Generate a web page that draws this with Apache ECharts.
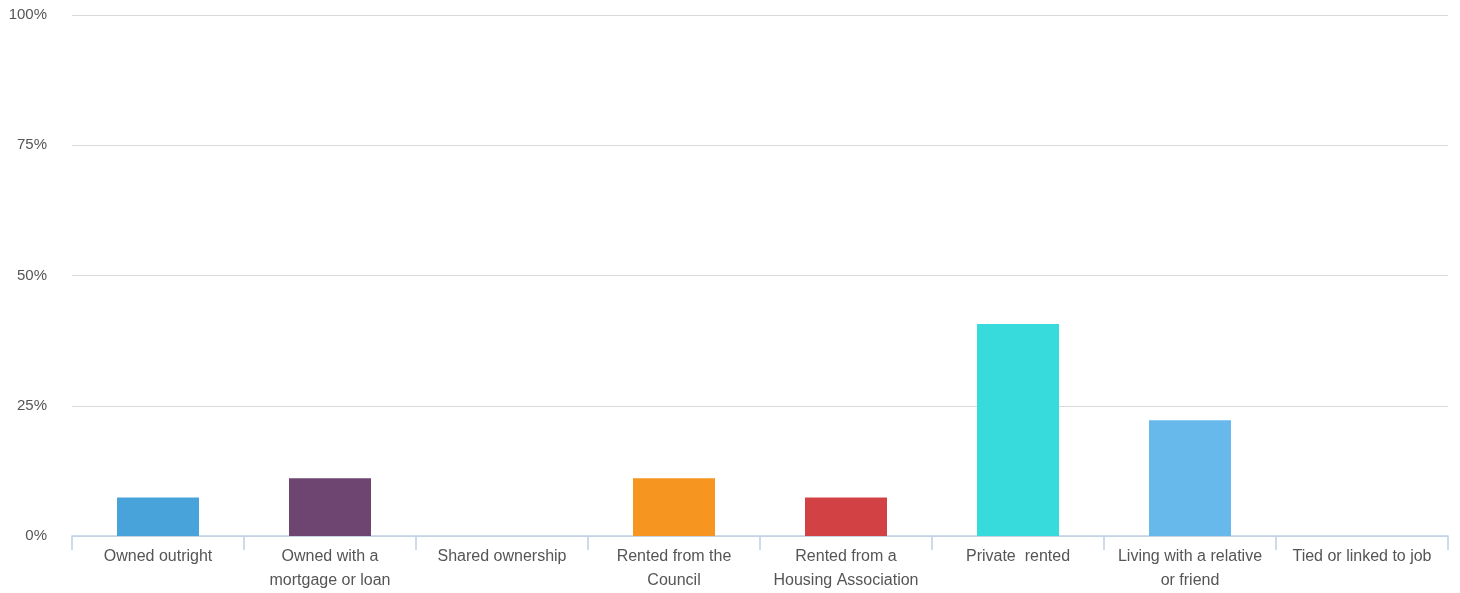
<!DOCTYPE html>
<html>
<head>
<meta charset="utf-8">
<script src="https://cdn.jsdelivr.net/npm/echarts@6/dist/echarts.min.js"></script>
<style>html,body{margin:0;padding:0;background:#fff;}#c{width:1460px;height:593px;}</style>
</head>
<body>
<div id="c"></div>
<script>
const categories = ["Owned outright", "Owned with a\nmortgage or loan", "Shared ownership", "Rented from the\nCouncil", "Rented from a\nHousing Association", "Private  rented", "Living with a relative\nor friend", "Tied or linked to job"];
const values = [7.4, 11.1, 0, 11.1, 7.4, 40.7, 22.2, 0];
const colors = ["#47A3D9", "#6E4570", "#8AC149", "#F6951F", "#D24245", "#38DBDB", "#66B9EA", "#A0A0A0"];
const yTicks = [0, 25, 50, 75, 100];

const chart = echarts.init(document.getElementById('c'));
chart.setOption({
  animation: false,
  grid: {left: 72, right: 12, top: 15, bottom: 55},
  xAxis: {
    type: 'category',
    data: categories,
    axisLine: {lineStyle: {color: '#BFD0E4', width: 1.5}},
    axisTick: {show: true, length: 14, lineStyle: {color: '#BFD0E4', width: 1.5}},
    axisLabel: {color: '#555', fontSize: 16, fontFamily: 'Liberation Sans, Arial', lineHeight: 24, margin: 9, interval: 0}
  },
  yAxis: {
    type: 'value',
    min: 0, max: 100, interval: 25,
    axisLabel: {color: '#555', fontSize: 15, fontFamily: 'Liberation Sans, Arial', margin: 25, formatter: v => yTicks.includes(v) ? v + '%' : ''},
    splitLine: {lineStyle: {color: '#D9D9D9', width: 1}},
    axisLine: {show: false}, axisTick: {show: false}
  },
  series: [{
    type: 'bar',
    barWidth: 82,
    data: values.map((v, i) => ({value: v, itemStyle: {color: colors[i]}}))
  }]
});
</script>
</body>
</html>
